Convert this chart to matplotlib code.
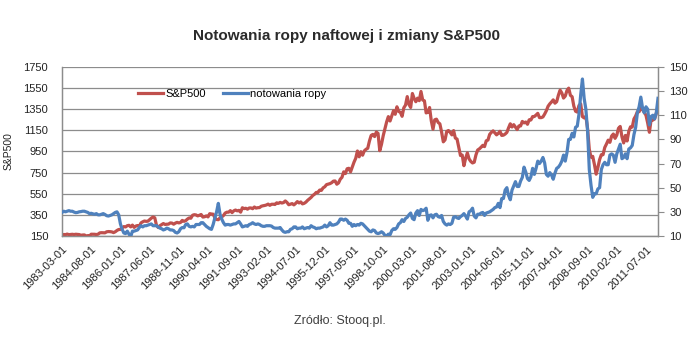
import matplotlib
matplotlib.use("Agg")
from matplotlib import pyplot as plt
import pandas as pd

# monthly closes, 1983-03 .. 2012-02
sp500 = [
    152.96, 164.42, 162.39, 168.11, 162.56, 164.40, 166.07, 163.55, 166.40, 164.93,
    163.41, 157.06, 159.18, 160.05, 150.55, 153.18, 150.66, 166.68, 166.10, 166.09, 163.58, 167.24,
    179.63, 181.18, 180.66, 179.83, 189.55, 191.85, 190.92, 188.63, 182.08, 189.82, 202.17, 211.28,
    211.78, 226.92, 238.90, 235.52, 247.35, 250.84, 236.12, 252.93, 231.32, 243.98, 249.22, 242.17,
    274.08, 284.20, 291.70, 288.36, 290.10, 304.00, 318.66, 329.80, 321.83, 251.79, 230.30, 247.08,
    257.07, 267.82, 258.89, 261.33, 262.16, 273.50, 272.02, 261.52, 271.91, 278.97, 273.70, 277.72,
    297.47, 288.86, 294.87, 309.64, 320.52, 317.98, 346.08, 351.45, 349.15, 340.36, 345.99, 353.40,
    329.08, 331.89, 339.94, 330.80, 361.23, 358.02, 356.15, 322.56, 306.05, 304.00, 322.22, 330.22,
    343.93, 367.07, 375.22, 375.35, 389.83, 371.16, 387.81, 395.43, 387.86, 392.46, 375.22, 417.09,
    408.79, 412.70, 403.69, 414.95, 415.35, 408.14, 424.21, 414.03, 417.80, 418.68, 431.35, 435.71,
    438.78, 443.38, 451.67, 440.19, 450.19, 450.53, 448.13, 463.56, 458.93, 467.83, 461.79, 466.45,
    481.61, 467.14, 445.77, 450.91, 456.50, 444.27, 458.26, 475.49, 462.69, 472.35, 453.69, 459.27,
    470.42, 487.39, 500.71, 514.71, 533.40, 544.75, 562.06, 561.88, 584.41, 581.50, 605.37, 615.93,
    636.02, 640.43, 645.50, 654.17, 669.12, 670.63, 639.95, 651.99, 687.31, 705.27, 757.02, 740.74,
    786.16, 790.82, 757.12, 801.34, 848.28, 885.14, 954.29, 899.47, 947.28, 914.62, 955.40, 970.43,
    980.28, 1049.34, 1101.75, 1111.75, 1090.82, 1133.84, 1120.67, 957.28, 1017.01, 1098.67, 1163.63, 1229.23,
    1279.64, 1238.33, 1286.37, 1335.18, 1301.84, 1372.71, 1328.72, 1320.41, 1282.71, 1362.93, 1388.91, 1469.25,
    1394.46, 1366.42, 1498.58, 1452.43, 1420.60, 1454.60, 1430.83, 1517.68, 1436.51, 1429.40, 1314.95, 1320.28,
    1366.01, 1239.94, 1160.33, 1249.46, 1255.82, 1224.38, 1211.23, 1133.58, 1040.94, 1059.78, 1139.45, 1148.08,
    1130.20, 1106.73, 1147.39, 1076.92, 1067.14, 989.82, 911.62, 916.07, 815.28, 885.76, 936.31, 879.82,
    855.70, 841.15, 848.18, 916.92, 963.59, 974.50, 990.31, 1008.01, 995.97, 1050.71, 1058.20, 1111.92,
    1131.13, 1144.94, 1126.21, 1107.30, 1120.68, 1140.84, 1101.72, 1104.24, 1114.58, 1130.20, 1173.82, 1211.92,
    1181.27, 1203.60, 1180.59, 1156.85, 1191.50, 1191.33, 1234.18, 1220.33, 1228.81, 1207.01, 1249.48, 1248.29,
    1280.08, 1280.66, 1294.83, 1310.61, 1270.09, 1270.20, 1276.66, 1303.82, 1335.85, 1377.94, 1400.63, 1418.30,
    1438.24, 1406.82, 1420.86, 1482.37, 1530.62, 1503.35, 1455.27, 1473.99, 1526.75, 1549.38, 1481.14, 1468.36,
    1378.55, 1330.63, 1322.70, 1385.59, 1400.38, 1280.00, 1267.38, 1282.83, 1166.36, 968.75, 896.24, 903.25,
    825.88, 735.09, 797.87, 872.81, 919.14, 919.32, 987.48, 1020.62, 1057.08, 1036.19, 1095.63, 1115.10,
    1073.87, 1104.49, 1169.43, 1186.69, 1089.41, 1030.71, 1101.60, 1049.33, 1141.20, 1183.26, 1180.55, 1257.64,
    1286.12, 1327.22, 1325.83, 1363.61, 1345.20, 1320.64, 1292.28, 1218.89, 1131.42, 1253.30, 1246.96, 1257.60,
    1312.41, 1365.68,
]

oil = [
    29.5, 30.5, 30, 30.5, 31, 30.5, 30.5, 29.8, 29.3, 29.5,
    30, 30.2, 30.5, 30.5, 30, 29.5, 28.5, 28.8, 28.3, 28, 28.5, 27.5,
    27.5, 28, 28.5, 27.8, 26.8, 26.5, 27, 27.5, 28.5, 29.5, 30, 27.5,
    20, 15.5, 12.5, 12, 14, 11.5, 9.5, 14, 14, 14.5, 15, 17,
    18.5, 17.5, 18.5, 18.5, 19, 19.5, 20, 18.5, 18.5, 18.5, 17.5, 16.5,
    16, 15, 15.5, 16.5, 16, 15, 15, 14.5, 13, 12.5, 13.5, 16,
    17, 16.8, 19.5, 20, 18, 17.5, 18, 17.5, 19.5, 19.5, 19.5, 21,
    21, 19.5, 18, 17, 16, 15.5, 19.5, 25, 30, 37, 28, 24,
    21, 19, 19.5, 19.5, 19, 19.5, 20, 20, 21, 22, 20, 17.5,
    18, 18.5, 18, 19.5, 20, 21, 20, 19.5, 20, 19.5, 18.5, 18,
    18, 18.5, 18.5, 18.5, 18.2, 17, 16.5, 16.5, 16.5, 17, 15, 13.5,
    13, 13.5, 13.5, 15.5, 16, 17.5, 17.5, 16, 16.5, 16.5, 17.5, 16,
    16.5, 17, 16.5, 18.5, 17.5, 17, 16, 16.5, 16.5, 17, 17.5, 19,
    17.5, 18.5, 21, 19, 19, 19.5, 20, 21.5, 24, 24, 23, 24,
    23, 20.5, 20.5, 18, 19.5, 18.5, 19.5, 19, 20.5, 20, 18.5, 17,
    15.5, 14, 13.5, 15, 14.5, 12.5, 12, 12.5, 13.5, 12.5, 10.5, 10,
    11.5, 11, 14.5, 16, 15.5, 17, 20, 21, 23.5, 22, 24.5, 25.5,
    27.5, 29, 24.5, 23.5, 29, 31, 27, 32, 31, 31.5, 33, 23,
    27, 27.5, 25, 27.5, 28, 26, 25.5, 27, 22, 20, 19, 20,
    19.5, 20.5, 25.5, 26, 25, 24.5, 26, 27, 28.5, 26.5, 24, 30,
    31, 33, 26.5, 25, 28, 28, 29, 29.5, 27, 29, 29.5, 30,
    31, 32, 33.5, 34, 37, 33.5, 41, 41, 48, 50, 43.5, 40,
    48, 51.5, 55, 51, 51, 55.5, 58.5, 67, 63, 57.5, 56, 59,
    66, 61, 66, 72, 70, 72, 75, 70.5, 61, 59.5, 62.5, 60.5,
    57, 62, 66, 67, 69, 72, 77, 72, 79, 90, 90, 95,
    92, 100, 101, 111, 127, 140, 124, 115, 97, 65, 52, 42,
    45, 45, 49, 50, 65, 69, 71, 69, 69, 77, 78, 77,
    71, 78, 82, 86, 74, 75, 78, 74, 82, 83, 85, 94,
    100, 112, 117, 125, 116, 112, 117, 115, 102, 109, 110, 107,
    112, 124,
]

months = pd.date_range("1983-03-01", periods=len(sp500), freq="MS").strftime("%Y-%m-%d")
label_step = 17

RED = "#C0504D"
BLUE = "#4F81BD"
GRID = "#8C8C8C"

plt.rcParams["font.family"] = ["Liberation Sans", "DejaVu Sans"]

fig = plt.figure(figsize=(7, 3.45), dpi=100)
ax = fig.add_axes([0.0886, 0.316, 0.8514, 0.49])
ax2 = ax.twinx()

x = range(len(months))
l1, = ax.plot(x, sp500, color=RED, lw=2.3, label="S&P500", zorder=3)
l2, = ax2.plot(x, oil, color=BLUE, lw=2.3, label="notowania ropy", zorder=3)

ax.set_xlim(0, len(months) - 1)
ax.set_ylim(150, 1750)
ax.set_yticks(range(150, 1751, 200))
ax2.set_ylim(10, 150)
ax2.set_yticks(range(10, 151, 20))
ax.grid(axis="y", color=GRID, lw=0.9)
ax.set_axisbelow(True)

ticks = list(range(0, len(months), label_step))
ax.set_xticks(ticks)
ax.set_xticklabels([months[i] for i in ticks], rotation=45, ha="right",
                   rotation_mode="anchor", fontsize=8, color="#222222")
ax.tick_params(axis="x", length=0, pad=6)
ax.tick_params(axis="y", length=0, labelsize=8, labelcolor="#222222", pad=10)
ax2.tick_params(axis="y", length=4, color=GRID, labelsize=8, labelcolor="#222222",
                pad=4, direction="out")

for a in (ax, ax2):
    a.spines["top"].set_visible(False)
    for s in ("left", "right", "bottom"):
        a.spines[s].set_color(GRID)
        a.spines[s].set_linewidth(0.9)

ax.set_ylabel("S&P500", fontsize=7.5, labelpad=7, color="#222222")

ax.legend(handles=[l1, l2], loc="upper left", bbox_to_anchor=(0.11, 0.93),
          ncol=2, frameon=False, fontsize=8, handlelength=2.3,
          handletextpad=0.2, columnspacing=1.5)

fig.text(0.495, 0.895, "Notowania ropy naftowej i zmiany S&P500",
         ha="center", va="center", fontsize=11, fontweight="bold", color="#2b2b2b")
fig.text(0.485, 0.07, "Zródło: Stooq.pl.", ha="center", va="center",
         fontsize=9, color="#404040")

fig.savefig("out.png", dpi=100)
